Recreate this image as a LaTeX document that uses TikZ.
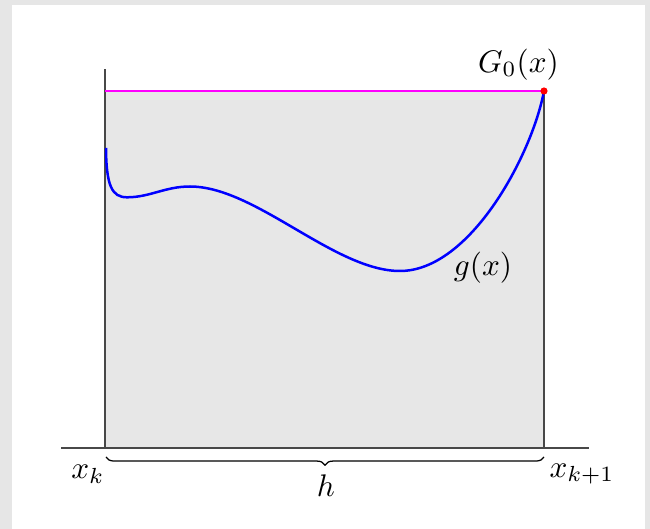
\documentclass[tikz,border=0pt]{standalone}
\usetikzlibrary{decorations.pathreplacing}
\definecolor{framegray}{HTML}{E6E6E6}
\definecolor{areagray}{HTML}{E7E7E7}
\definecolor{axisgray}{HTML}{484848}
\definecolor{magline}{RGB}{255,0,255}
\definecolor{curveblue}{RGB}{0,0,255}
\definecolor{dotred}{RGB}{255,0,0}
\begin{document}
\begin{tikzpicture}[x=0.32pt,y=-0.32pt,
  axisline/.style={draw=axisgray,line width=0.45pt},
  topline/.style={draw=magline,line width=0.75pt},
  gcurve/.style={draw=curveblue,line width=0.8pt},
  lbl/.style={inner sep=0pt,font=\normalsize},
  bracestyle/.style={draw=black,line width=0.4pt,decorate,decoration={brace,mirror,amplitude=2.6pt}}]
\useasboundingbox (0,0) rectangle (650,529);
\fill[framegray] (0,0) rectangle (650,529);
\fill[white] (12,5) rectangle (645,529);
\fill[areagray] (105,91) rectangle (544,448);
\coordinate (axL) at (61,448);
\coordinate (axR) at (589,448);
\coordinate (lb) at (105,448);
\coordinate (lt) at (105,69);
\coordinate (rb) at (544,448);
\coordinate (rt) at (544,91);
\coordinate (mt) at (105,91);
\draw[axisline] (axL) -- (axR);
\draw[axisline] (lb) -- (lt);
\draw[axisline] (rb) -- (rt);
\draw[topline] (mt) -- (rt);
\coordinate (gA) at (106,148);
\coordinate (gB) at (127,197.3);
\coordinate (gC) at (190,186.5);
\coordinate (gD) at (400,271);
\draw[gcurve] (gA) .. controls (106.3,186) and (112,197.3) .. (gB)
  .. controls (150,197.3) and (165,186.5) .. (gC)
  .. controls (255.5,186.5) and (334.5,271) .. (gD)
  .. controls (470,271) and (532,155) .. (rt);
\fill[dotred] (rt) circle[radius=3.6];
\coordinate (bl) at (106,457);
\coordinate (br) at (544,457);
\draw[bracestyle] (bl) -- (br);
\node[lbl] (G0) at (518.5,64.5) {$G_0(x)$};
\node[lbl] (gx) at (483,267.5) {$g(x)$};
\node[lbl] (xk) at (88,474) {$x_k$};
\node[lbl] (xk1) at (582,474) {$x_{k+1}$};
\node[lbl] (h) at (326,486) {$h$};
\end{tikzpicture}
\end{document}
